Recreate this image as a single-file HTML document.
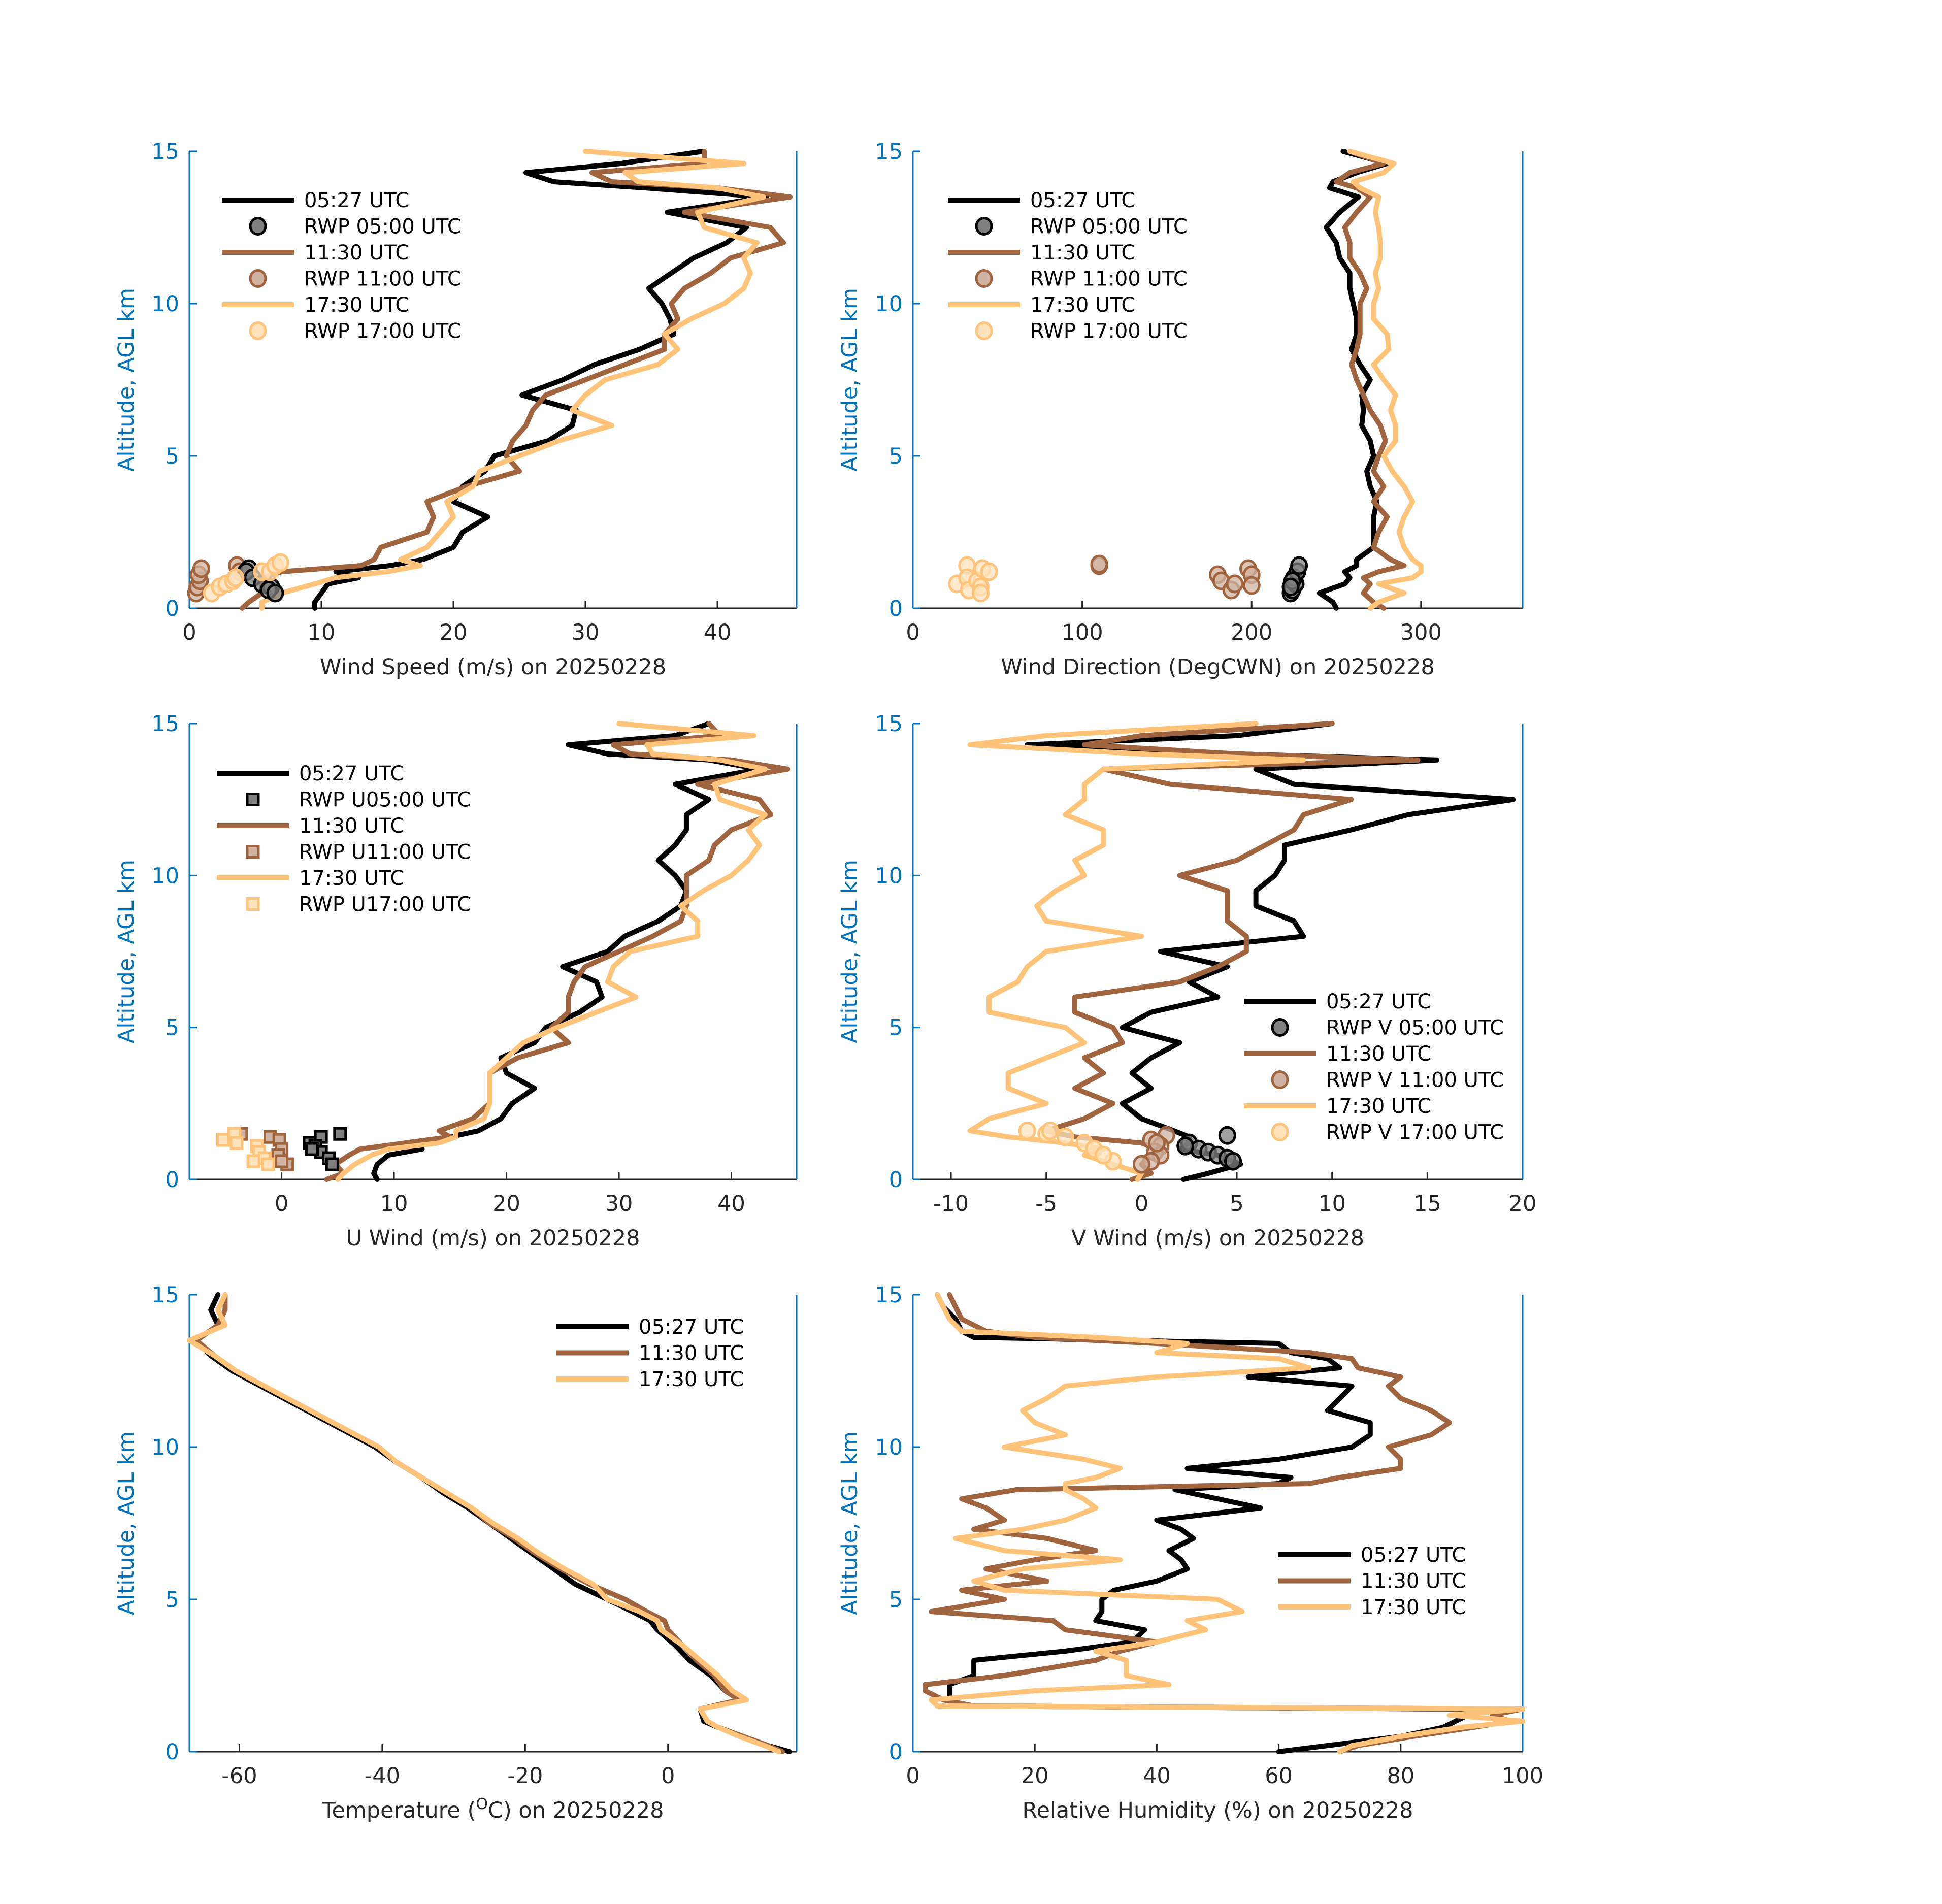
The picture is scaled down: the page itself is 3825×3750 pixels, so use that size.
<!DOCTYPE html>
<html><head><meta charset="utf-8">
<style>
html,body{margin:0;padding:0;background:#fff;}
svg{display:block;font-family:"DejaVu Sans","Liberation Sans",sans-serif;}
</style></head>
<body>
<svg id="fig" width="3825" height="3750" viewBox="0 0 3825 3750" xmlns="http://www.w3.org/2000/svg">
<rect x="0" y="0" width="3825" height="3750" fill="#fff"/>
</svg>
<script>
// ---------- DATA ----------
const ALT = [0,0.2,0.5,0.8,1.0,1.2,1.4,1.6,2.0,2.5,3.0,3.5,4.0,4.5,5.0,5.5,6.0,6.5,7.0,7.5,8.0,8.5,9.0,9.5,10.0,10.5,11.0,11.5,12.0,12.5,13.0,13.5,13.8,14.0,14.3,14.6,15.0];

const spd0527 = [9.5,9.5,10,10.5,12.8,11.1,15.2,17.7,20,20.7,22.6,20,20.7,22.4,23.1,27.2,29,29.3,25.2,28.3,30.7,34.1,36.7,36.4,35.8,34.8,36.5,38.2,40.7,42.2,36.2,43.7,34.5,27.6,25.5,32.7,38.9];
const spd1130 = [4,4.5,5.5,5.5,5.5,7,13,14,14.5,18,18.5,18,21,25,24,24.5,25.5,26,27,30,33,36,36,37,36.5,37.5,39.5,41,45,44,37.5,45.5,40,32,30.5,39,39];
const spd1730 = [5.5,5.5,7,9.5,11,15,17.5,16,18,19,20,19.5,21.5,22,25,28,32,29,30,31.5,35.5,37,36,38,40.5,42,42.5,42,43,39,38.5,43.5,40,34,33,42,30];

const dir0527 = [250,248,240,255,258,255,262,262,272,272,272,274,270,268,272,270,265,266,265,270,264,259,262,262,260,258,258,252,250,244,252,263,246,248,262,280,254];
const dir1130 = [278,272,266,270,266,275,290,282,272,275,280,272,278,272,275,279,276,270,266,262,259,262,264,264,264,268,264,258,258,255,262,270,262,250,258,278,258];
const dir1730 = [270,275,290,275,295,300,300,295,290,287,290,295,290,283,278,285,285,282,285,278,272,281,280,272,272,275,273,276,276,275,273,275,264,260,278,284,258];

const u0527 = [8.5,8.2,8.5,9.5,12.5,11,15,17.5,19.5,20.5,22.5,20,19.5,22.5,23.5,26.5,28.5,28,25,29,30.5,33.5,35.5,36,35,33.5,35,36,36,38,35,42.5,38,29,25.5,35,38];
const u1130 = [4,5.5,4.8,6,7,11,15,14,17,18.5,18.5,18.5,21,25.5,24,25.5,25.5,26,27,30,33,35.5,36,36,36,38,38.5,40,43.5,42.5,37,45,40,31,29.5,39,38];
const u1730 = [5,5.5,6.5,8,9.5,14,15.5,15.5,18,18.5,18.5,18.5,20,21.5,24.5,28,31.5,29,29.5,31,37,37,35.5,37.5,40,41.5,42.5,41.5,43,39,38.5,43,39,33,32.5,42,30];

const v0527 = [2.2,3.5,5.2,4,2,2.5,2.5,1.7,0,-1,0.5,-0.5,0.5,2,-1,0.5,4,2.5,4.5,1,8.5,8,6,6,7,7.5,7.5,11,14,19.5,8,6,15.5,5,-6,5,10];
const v1130 = [-0.5,0.5,0,0.5,0.8,0,-3.5,-5,-3,-1.5,-3.5,-2,-3,-1,-1.5,-3.5,-3.5,2,4,5.5,5.5,4.5,4.5,4.5,2,5,6.5,8,8.5,11,1.5,-2,14.5,5,-3,0,10];
const v1730 = [-0.2,0,-1.5,-3,-2,-4,-7,-9,-8,-5,-7,-7,-5,-3,-4,-8,-8,-6.5,-6,-5,0,-5,-5.5,-4.5,-3,-3.5,-2,-2,-4,-3,-3,-2,8.5,0,-9,-5,6];

const T_ALT = [0,0.2,0.5,0.8,1.0,1.4,1.7,2.0,2.5,3.0,3.5,4.0,4.3,4.6,5.0,5.5,6.0,6.5,7.0,7.5,8.0,8.5,9.0,9.5,10.0,10.5,11.0,11.5,12.0,12.5,13.0,13.5,14.0,14.5,15.0];
const t0527 = [17,14,10.5,7,5,4.5,10,8,6,3,1,-1.5,-2.5,-5,-8.5,-13,-16,-19,-22,-25,-28,-31.5,-34.5,-38,-41,-45,-49,-53,-57,-61,-64,-66,-63,-64,-63];
const t1130 = [16,14,10.5,7,5.5,4.5,10,8,6.5,4,2,0,-0.5,-3,-6,-11,-15,-18.5,-21.5,-25,-27.5,-31,-34.5,-38,-40.5,-44.5,-48.5,-52.5,-56.5,-60.5,-63.5,-66,-63,-62,-62];
const t1730 = [15.5,13.5,10,7,5.5,4.5,11,9,7,4.5,2,-1,-1.5,-4,-8.5,-10.5,-14.5,-18,-21,-24.5,-27.5,-31,-34.5,-38,-40.5,-44.5,-48.5,-52.5,-56.5,-60.5,-63.5,-67,-62,-63,-62];

const RH_ALT = [0,0.2,0.5,0.8,1.0,1.2,1.4,1.5,1.7,2.0,2.2,2.5,3.0,3.3,3.6,4.0,4.3,4.6,5.0,5.3,5.6,6.0,6.3,6.6,7.0,7.3,7.6,8.0,8.3,8.6,8.8,9.0,9.3,9.6,10.0,10.4,10.8,11.2,11.6,12.0,12.3,12.6,12.9,13.1,13.4,13.6,13.8,14.2,14.6,15.0];
const rh0527 = [60,68,80,87,89,91,90,8,6,6,6,10,10,25,36,38,30,31,31,33,40,45,44,42,46,44,40,57,50,43,60,62,45,60,72,75,75,68,70,72,55,70,68,62,60,10,8,7,5,4];
const rh1130 = [70,73,82,92,98,95,100,10,5,2,2,15,30,34,40,25,23,3,15,8,22,12,20,30,22,10,15,12,8,17,65,70,80,80,78,85,88,85,80,78,80,73,72,65,40,20,12,8,7,6];
const rh1730 = [70,72,80,90,100,88,100,4,3,20,42,35,35,30,40,48,45,54,50,15,10,18,34,15,7,18,25,30,28,25,25,30,34,28,15,25,20,18,22,25,40,65,60,40,45,30,8,6,5,4];

// RWP observations (value, altitude km)
const rwpSpd0500 = [4.5,4.3,4.8,5.5,6.2,6.0,6.5]; const rwpSpdAlt0500 = [1.3,1.2,1.0,0.8,0.7,0.6,0.5];
const rwpSpd1100 = [0.5,0.6,0.8,0.7,0.9,3.6,3.8]; const rwpSpdAlt1100 = [0.5,0.7,0.9,1.1,1.3,1.4,1.2];
const rwpSpd1700 = [1.7,2.3,2.8,3.3,3.5,5.5,6.1,6.5,6.9]; const rwpSpdAlt1700 = [0.5,0.7,0.8,0.9,1.0,1.2,1.2,1.4,1.5];

const rwpDir0500 = [223,224,226,225,227,228,224,223]; const rwpDirAlt0500 = [0.5,0.6,0.8,1.0,1.2,1.4,0.9,0.7];
const rwpDir1100 = [110,110,180,182,188,190,198,200,200]; const rwpDirAlt1100 = [1.4,1.45,1.1,0.9,0.6,0.8,1.3,1.1,0.75];
const rwpDir1700 = [26,32,32,33,38,40,41,45,40]; const rwpDirAlt1700 = [0.8,1.4,1.0,0.6,0.9,0.7,1.3,1.2,0.5];

const rwpU0500 = [2.5,3.5,5.2,3.0,3.5,4.2,4.5,2.7]; const rwpUAlt0500 = [1.2,1.4,1.5,1.1,0.9,0.7,0.5,1.0];
const rwpU1100 = [-1.0,-0.2,0.0,-0.3,0.5,0,-3.6]; const rwpUAlt1100 = [1.4,1.3,1.0,0.8,0.5,0.6,1.5];
const rwpU1700 = [-5.2,-4.2,-4.0,-2.2,-2.0,-1.5,-1.2,-2.5]; const rwpUAlt1700 = [1.3,1.5,1.2,1.1,0.9,0.7,0.5,0.6];

const rwpV0500 = [4.5,2.5,3,3.5,4.0,4.5,4.8,2.3]; const rwpVAlt0500 = [1.45,1.2,1.0,0.9,0.8,0.7,0.6,1.1];
const rwpV1100 = [0.5,1.3,1,0.7,1.0,0.5,0,0.8]; const rwpVAlt1100 = [1.3,1.45,1.1,0.9,0.8,0.6,0.5,1.2];
const rwpV1700 = [-6,-5,-4,-3,-2.5,-1.5,-2,-4.8]; const rwpVAlt1700 = [1.6,1.5,1.4,1.2,1.0,0.6,0.8,1.6];

const yTicks = [0,5,10,15];

// ---------- DRAWING ----------
const NS = 'http://www.w3.org/2000/svg';
const svg = document.getElementById('fig');
const C_BLK = '#000000', C_BRN = '#A0643F', C_LT = '#FFC47A';
const F_BLK = '#808080', F_BRN = '#D0B3A0', F_LT = '#FFE3BD';
const BLUE = '#0072BD', AX = '#262626';
const FS = 43;

function el(tag, attrs, parent) {
  const e = document.createElementNS(NS, tag);
  for (const k in attrs) e.setAttribute(k, attrs[k]);
  (parent || svg).appendChild(e);
  return e;
}

function makePanel(name, box, xmin, xmax, xTicks, xLabel) {
  const g = el('g', {});
  
  
  const sx = v => box.x + (v - xmin) / (xmax - xmin) * box.w;
  const sy = a => box.y + box.h - a / 15 * box.h;
  const xa = el('g', {}, g);
  
  
  el('line', {x1: box.x, y1: box.y + box.h, x2: box.x + box.w, y2: box.y + box.h, stroke: AX, 'stroke-width': 3}, xa);
  xTicks.forEach(t => {
    el('line', {x1: sx(t), y1: box.y + box.h, x2: sx(t), y2: box.y + box.h - 15, stroke: AX, 'stroke-width': 3}, xa);
    const tx = el('text', {x: sx(t), y: box.y + box.h + 62, 'font-size': FS, fill: AX, 'text-anchor': 'middle'}, xa);
    tx.textContent = t;
    
    
  });
  const xl = el('text', {x: box.x + box.w / 2, y: box.y + box.h + 130, 'font-size': FS, fill: AX, 'text-anchor': 'middle'}, xa);
  if (xLabel === 'TEMP') {
    xl.innerHTML = 'Temperature (<tspan dy="-17" font-size="30">O</tspan><tspan dy="17">C) on 20250228</tspan>';
  } else xl.textContent = xLabel;
  
  
  const ya = el('g', {}, g);
  
  
  el('line', {x1: box.x, y1: box.y, x2: box.x, y2: box.y + box.h, stroke: BLUE, 'stroke-width': 3}, ya);
  el('line', {x1: box.x + box.w, y1: box.y, x2: box.x + box.w, y2: box.y + box.h, stroke: BLUE, 'stroke-width': 3}, ya);
  yTicks.forEach(t => {
    el('line', {x1: box.x, y1: sy(t), x2: box.x + 15, y2: sy(t), stroke: BLUE, 'stroke-width': 3}, ya);
    const tx = el('text', {x: box.x - 20, y: sy(t) + 15, 'font-size': FS, fill: BLUE, 'text-anchor': 'end'}, ya);
    tx.textContent = t;
    
    
  });
  const yl = el('text', {x: 0, y: 0, 'font-size': FS, fill: BLUE, 'text-anchor': 'middle', transform: `translate(${box.x - 110},${box.y + box.h / 2}) rotate(-90)`}, ya);
  yl.textContent = 'Altitude, AGL km';
  
  
  return {g, sx, sy, box};
}

function drawLine(p, alts, vals, color, name) {
  const pts = vals.map((v, i) => p.sx(v).toFixed(1) + ',' + p.sy(alts[i]).toFixed(1)).join(' ');
  const l = el('polyline', {points: pts, fill: 'none', stroke: color, 'stroke-width': 10, 'stroke-linejoin': 'round', 'stroke-linecap': 'round'}, p.g);
  
  
}

function drawPts(p, vals, alts, stroke, fill, shape, name) {
  vals.forEach((v, i) => {
    let m;
    if (shape === 'sq') m = el('rect', {x: p.sx(v) - 11, y: p.sy(alts[i]) - 11, width: 22, height: 22, fill: fill, stroke: stroke, 'stroke-width': 5}, p.g);
    else m = el('ellipse', {cx: p.sx(v), cy: p.sy(alts[i]), rx: 15, ry: 16, fill: fill, 'fill-opacity': 0.75, stroke: stroke, 'stroke-width': 5}, p.g);
    
    
  });
}

function legend(p, x, y, entries) {
  const g = el('g', {}, p.g);
  
  
  entries.forEach((e, i) => {
    const yy = y + i * 51.5;
    const eg = el('g', {}, g);
    
    
    if (e.type === 'line') el('line', {x1: x, y1: yy, x2: x + 142, y2: yy, stroke: e.c, 'stroke-width': 10}, eg);
    else if (e.type === 'sq') el('rect', {x: x + 60, y: yy - 11, width: 22, height: 22, fill: e.f, stroke: e.c, 'stroke-width': 5}, eg);
    else el('ellipse', {cx: x + 71, cy: yy, rx: 15, ry: 16, fill: e.f, stroke: e.c, 'stroke-width': 5}, eg);
    const t = el('text', {x: x + 162, y: yy + 14, 'font-size': 40, fill: '#000'}, eg);
    t.textContent = e.t;
  });
}

const L = 373, LW = 1196, R = 1798, RW = 1201;
const rows = [{y: 298, h: 900}, {y: 1425, h: 898}, {y: 2550, h: 900}];

// Panel 1: wind speed
let p = makePanel('wind-speed-panel', {x: L, y: rows[0].y, w: LW, h: rows[0].h}, 0, 46, [0,10,20,30,40], 'Wind Speed (m/s) on 20250228');
drawLine(p, ALT, spd0527, C_BLK, 'speed-0527-line');
drawLine(p, ALT, spd1130, C_BRN, 'speed-1130-line');
drawLine(p, ALT, spd1730, C_LT, 'speed-1730-line');
drawPts(p, rwpSpd1100, rwpSpdAlt1100, C_BRN, F_BRN, 'c', 'rwp-speed-1100');
drawPts(p, rwpSpd0500, rwpSpdAlt0500, C_BLK, F_BLK, 'c', 'rwp-speed-0500');
drawPts(p, rwpSpd1700, rwpSpdAlt1700, C_LT, F_LT, 'c', 'rwp-speed-1700');
legend(p, 437, 394, [{type:'line',c:C_BLK,t:'05:27 UTC'},{type:'c',c:C_BLK,f:F_BLK,t:'RWP 05:00 UTC'},{type:'line',c:C_BRN,t:'11:30 UTC'},{type:'c',c:C_BRN,f:F_BRN,t:'RWP 11:00 UTC'},{type:'line',c:C_LT,t:'17:30 UTC'},{type:'c',c:C_LT,f:F_LT,t:'RWP 17:00 UTC'}]);

// Panel 2: direction
p = makePanel('wind-direction-panel', {x: R, y: rows[0].y, w: RW, h: rows[0].h}, 0, 360, [0,100,200,300], 'Wind Direction (DegCWN) on 20250228');
drawLine(p, ALT, dir0527, C_BLK, 'direction-0527-line');
drawLine(p, ALT, dir1130, C_BRN, 'direction-1130-line');
drawLine(p, ALT, dir1730, C_LT, 'direction-1730-line');
drawPts(p, rwpDir0500, rwpDirAlt0500, C_BLK, F_BLK, 'c', 'rwp-direction-0500');
drawPts(p, rwpDir1100, rwpDirAlt1100, C_BRN, F_BRN, 'c', 'rwp-direction-1100');
drawPts(p, rwpDir1700, rwpDirAlt1700, C_LT, F_LT, 'c', 'rwp-direction-1700');
legend(p, 1867, 394, [{type:'line',c:C_BLK,t:'05:27 UTC'},{type:'c',c:C_BLK,f:F_BLK,t:'RWP 05:00 UTC'},{type:'line',c:C_BRN,t:'11:30 UTC'},{type:'c',c:C_BRN,f:F_BRN,t:'RWP 11:00 UTC'},{type:'line',c:C_LT,t:'17:30 UTC'},{type:'c',c:C_LT,f:F_LT,t:'RWP 17:00 UTC'}]);

// Panel 3: U wind
p = makePanel('u-wind-panel', {x: L, y: rows[1].y, w: LW, h: rows[1].h}, -8.2, 45.8, [0,10,20,30,40], 'U Wind (m/s) on 20250228');
drawLine(p, ALT, u0527, C_BLK, 'u-0527-line');
drawLine(p, ALT, u1130, C_BRN, 'u-1130-line');
drawLine(p, ALT, u1730, C_LT, 'u-1730-line');
drawPts(p, rwpU0500, rwpUAlt0500, C_BLK, F_BLK, 'sq', 'rwp-u-0500');
drawPts(p, rwpU1100, rwpUAlt1100, C_BRN, F_BRN, 'sq', 'rwp-u-1100');
drawPts(p, rwpU1700, rwpUAlt1700, C_LT, F_LT, 'sq', 'rwp-u-1700');
legend(p, 427, 1523, [{type:'line',c:C_BLK,t:'05:27 UTC'},{type:'sq',c:C_BLK,f:F_BLK,t:'RWP U05:00 UTC'},{type:'line',c:C_BRN,t:'11:30 UTC'},{type:'sq',c:C_BRN,f:F_BRN,t:'RWP U11:00 UTC'},{type:'line',c:C_LT,t:'17:30 UTC'},{type:'sq',c:C_LT,f:F_LT,t:'RWP U17:00 UTC'}]);

// Panel 4: V wind
p = makePanel('v-wind-panel', {x: R, y: rows[1].y, w: RW, h: rows[1].h}, -12, 20, [-10,-5,0,5,10,15,20], 'V Wind (m/s) on 20250228');
drawLine(p, ALT, v0527, C_BLK, 'v-0527-line');
drawLine(p, ALT, v1130, C_BRN, 'v-1130-line');
drawLine(p, ALT, v1730, C_LT, 'v-1730-line');
drawPts(p, rwpV0500, rwpVAlt0500, C_BLK, F_BLK, 'c', 'rwp-v-0500');
drawPts(p, rwpV1100, rwpVAlt1100, C_BRN, F_BRN, 'c', 'rwp-v-1100');
drawPts(p, rwpV1700, rwpVAlt1700, C_LT, F_LT, 'c', 'rwp-v-1700');
legend(p, 2450, 1972, [{type:'line',c:C_BLK,t:'05:27 UTC'},{type:'c',c:C_BLK,f:F_BLK,t:'RWP V 05:00 UTC'},{type:'line',c:C_BRN,t:'11:30 UTC'},{type:'c',c:C_BRN,f:F_BRN,t:'RWP V 11:00 UTC'},{type:'line',c:C_LT,t:'17:30 UTC'},{type:'c',c:C_LT,f:F_LT,t:'RWP V 17:00 UTC'}]);

// Panel 5: temperature
p = makePanel('temperature-panel', {x: L, y: rows[2].y, w: LW, h: rows[2].h}, -67, 18, [-60,-40,-20,0], 'TEMP');
drawLine(p, T_ALT, t0527, C_BLK, 'temp-0527-line');
drawLine(p, T_ALT, t1130, C_BRN, 'temp-1130-line');
drawLine(p, T_ALT, t1730, C_LT, 'temp-1730-line');
legend(p, 1096, 2613, [{type:'line',c:C_BLK,t:'05:27 UTC'},{type:'line',c:C_BRN,t:'11:30 UTC'},{type:'line',c:C_LT,t:'17:30 UTC'}]);

// Panel 6: RH
p = makePanel('humidity-panel', {x: R, y: rows[2].y, w: RW, h: rows[2].h}, 0, 100, [0,20,40,60,80,100], 'Relative Humidity (%) on 20250228');
drawLine(p, RH_ALT, rh0527, C_BLK, 'rh-0527-line');
drawLine(p, RH_ALT, rh1130, C_BRN, 'rh-1130-line');
drawLine(p, RH_ALT, rh1730, C_LT, 'rh-1730-line');
legend(p, 2518, 3062, [{type:'line',c:C_BLK,t:'05:27 UTC'},{type:'line',c:C_BRN,t:'11:30 UTC'},{type:'line',c:C_LT,t:'17:30 UTC'}]);
</script>
</body></html>
